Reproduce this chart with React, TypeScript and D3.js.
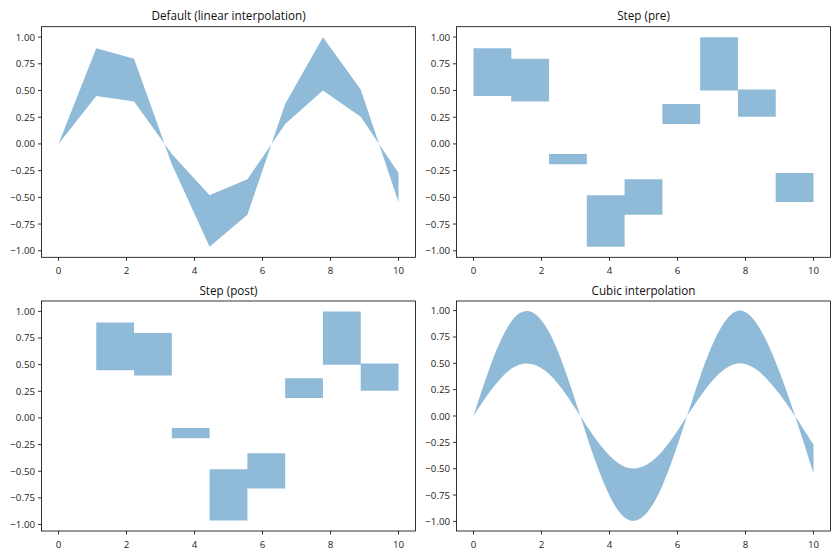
import React, { useEffect, useRef } from 'react';
import * as d3 from 'd3';

// sample points (x) and the two curves
const xs = [0, 1.111, 2.222, 3.333, 4.444, 5.556, 6.667, 7.778, 8.889, 10];
const upper = [0, 0.896, 0.796, -0.191, -0.963, -0.662, 0.373, 0.999, 0.51, -0.544];
const lower = [0, 0.448, 0.398, -0.095, -0.481, -0.331, 0.186, 0.499, 0.255, -0.272];

const xTicks = [0, 2, 4, 6, 8, 10];
const yTicks = [-1, -0.75, -0.5, -0.25, 0, 0.25, 0.5, 0.75, 1];
const titles = ['Default (linear interpolation)', 'Step (pre)', 'Step (post)', 'Cubic interpolation'];
// extent of the smooth curve in the last panel
const cubicRange = [-0.992, 0.992];

const FONT = '"Open Sans", "DejaVu Sans", sans-serif';

const App: React.FC = () => {
    const ref = useRef<SVGSVGElement>(null);

    useEffect(() => {
        const svg = d3.select(ref.current);
        svg.selectAll('*').remove();

        const data = xs.map((x, i) => ({ x, y1: upper[i], y0: lower[i] }));

        const boxes = [
            { left: 41.5, right: 415.5, top: 26.7, bottom: 257.3 },
            { left: 456.5, right: 830.5, top: 26.7, bottom: 257.3 },
            { left: 41.5, right: 415.5, top: 301, bottom: 531 },
            { left: 456.5, right: 830.5, top: 301, bottom: 531 },
        ];
        const curves = [d3.curveLinear, d3.curveStepBefore, d3.curveStepAfter, d3.curveNatural];

        const pad = (lo: number, hi: number) => {
            const m = (hi - lo) * 0.05;
            return [lo - m, hi + m];
        };
        const xExt = d3.extent(xs) as [number, number];
        const yExt = [d3.min(lower.concat(upper)) as number, d3.max(lower.concat(upper)) as number];

        boxes.forEach((b, i) => {
            const g = svg.append('g');
            const x = d3.scaleLinear().domain(pad(xExt[0], xExt[1])).range([b.left, b.right]);
            const yd = i === 3 ? pad(cubicRange[0], cubicRange[1]) : pad(yExt[0], yExt[1]);
            const y = d3.scaleLinear().domain(yd).range([b.bottom, b.top]);

            const area = d3.area<any>()
                .x(d => x(d.x))
                .y0(d => y(d.y0))
                .y1(d => y(d.y1))
                .curve(curves[i]);

            g.append('path')
                .attr('d', area(data))
                .attr('fill', '#1f77b4')
                .attr('fill-opacity', 0.5);

            // frame
            g.append('rect')
                .attr('x', b.left).attr('y', b.top)
                .attr('width', b.right - b.left).attr('height', b.bottom - b.top)
                .attr('fill', 'none').attr('stroke', '#000').attr('stroke-width', 0.8);

            // x ticks
            xTicks.forEach(t => {
                g.append('line')
                    .attr('x1', x(t)).attr('x2', x(t))
                    .attr('y1', b.bottom).attr('y2', b.bottom + 3.5)
                    .attr('stroke', '#000').attr('stroke-width', 0.8);
                g.append('text')
                    .attr('x', x(t)).attr('y', b.bottom + 17)
                    .attr('text-anchor', 'middle')
                    .attr('font-family', FONT).attr('font-size', 9.7)
                    .attr('fill', '#222')
                    .text(String(t));
            });

            // y ticks
            yTicks.forEach(t => {
                g.append('line')
                    .attr('x1', b.left - 3.5).attr('x2', b.left)
                    .attr('y1', y(t)).attr('y2', y(t))
                    .attr('stroke', '#000').attr('stroke-width', 0.8);
                g.append('text')
                    .attr('x', b.left - 6.5).attr('y', y(t) + 3.5)
                    .attr('text-anchor', 'end')
                    .attr('font-family', FONT).attr('font-size', 9.7)
                    .attr('fill', '#222')
                    .text(d3.format('.2f')(t));
            });

            g.append('text')
                .attr('x', (b.left + b.right) / 2).attr('y', b.top - 6.5)
                .attr('text-anchor', 'middle')
                .attr('font-family', FONT).attr('font-size', 11.7)
                .attr('fill', '#111')
                .text(titles[i]);
        });
    }, []);

    return (
        <svg ref={ref} width="840" height="560"
            style={{ position: 'absolute', left: 0, top: 0, background: '#fff' }}></svg>
    );
};

export default App;
